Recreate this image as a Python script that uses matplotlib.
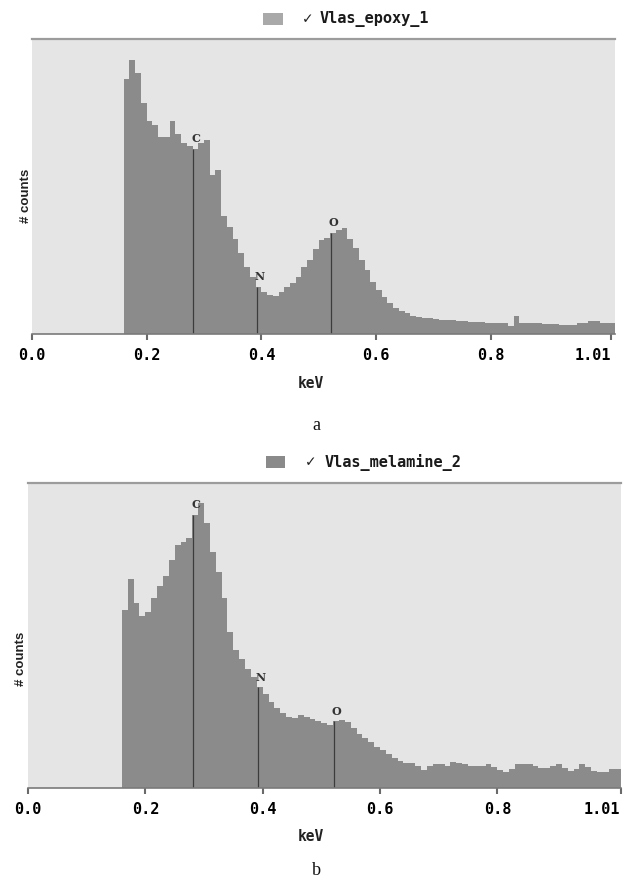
import numpy as np
import matplotlib
matplotlib.use("Agg")
import matplotlib.pyplot as plt
from matplotlib.patches import Rectangle

# ---------------- data ----------------
bin_start = 0.16      # keV
bin_width = 0.01      # keV
tick_values = [0.0, 0.2, 0.4, 0.6, 0.8, 1.01]
tick_labels = ["0.0", "0.2", "0.4", "0.6", "0.8", "1.01"]

element_names = ["C", "N", "O"]
element_energy = [0.281, 0.392, 0.521]

title_a = "Vlas_epoxy_1"
counts_a = [255, 274, 261, 231, 213, 209, 197, 197, 213, 200,
            191, 188, 185, 191, 194, 159, 164, 118, 107, 95,
            81, 67, 57, 47, 42, 39, 38, 42, 47, 51,
            57, 67, 74, 85, 94, 96, 101, 104, 106, 95,
            86, 74, 64, 52, 44, 37, 31, 26, 23, 21,
            18, 17, 16, 16, 15, 14, 14, 14, 13, 13,
            12, 12, 12, 11, 11, 11, 11, 8, 18, 11,
            11, 11, 11, 10, 10, 10, 9, 9, 9, 11,
            11, 13, 13, 11, 11, 11]

title_b = "Vlas_melamine_2"
counts_b = [178, 209, 185, 172, 176, 190, 202, 212, 228, 243,
            246, 250, 273, 285, 265, 236, 216, 190, 156, 138,
            129, 119, 111, 101, 94, 86, 80, 75, 71, 70,
            73, 71, 69, 67, 65, 63, 67, 68, 66, 60,
            54, 50, 46, 41, 38, 34, 30, 27, 25, 25,
            22, 18, 22, 24, 24, 22, 26, 25, 24, 22,
            22, 22, 24, 21, 18, 16, 19, 24, 24, 24,
            22, 20, 20, 22, 24, 20, 17, 19, 24, 21,
            17, 16, 16, 19, 19, 19]

# ---------------- styling ----------------
W, H = 624, 880
fig = plt.figure(figsize=(W / 100, H / 100), dpi=100)

BG = "#e5e5e5"
BAR = "#8b8b8b"
MONO = ["DejaVu Sans Mono", "DejaVu Sans"]


def fx(x):
    return x / W


def fy(y):
    return 1 - y / H


def panel(left, right, top, bottom, xmax, ymax, counts, title, swatch, swatch_col,
          check_x, text_x, legend_y, label_y, label_x, keV_y, letter, letter_y):
    ax = fig.add_axes([fx(left), fy(bottom), fx(right - left), (bottom - top) / H])
    ax.set_facecolor(BG)
    counts = np.asarray(counts, dtype=float)
    edges = bin_start + bin_width * np.arange(len(counts) + 1)
    ax.stairs(counts, edges, fill=True, color=BAR, linewidth=0)

    for name, e in zip(element_names, element_energy):
        idx = int(np.clip(np.searchsorted(edges, e, side="right") - 1, 0, len(counts) - 1))
        h = counts[idx]
        ax.plot([e, e], [0, h], color="#3c3c3c", lw=0.9, solid_capstyle="butt")
        ax.annotate(name, xy=(e, h), xytext=(3, 10), textcoords="offset pixels",
                    ha="center", va="center", fontsize=8, fontweight="bold",
                    family="DejaVu Serif", color="#333333")

    ax.set_xlim(0, xmax)
    ax.set_ylim(0, ymax)
    for s in ["left", "right"]:
        ax.spines[s].set_visible(False)
    ax.spines["top"].set_color("#9c9c9c")
    ax.spines["top"].set_linewidth(1.6)
    ax.spines["bottom"].set_color("#7a7a7a")
    ax.spines["bottom"].set_linewidth(1.2)
    ax.set_yticks([])
    ax.set_xticks(tick_values)
    labels = ax.set_xticklabels(tick_labels, family=MONO, fontweight="bold", fontsize=11)
    labels[-1].set_horizontalalignment("right")
    ax.tick_params(axis="x", direction="out", length=4, width=1.5, color="#6a6a6a",
                   pad=6)

    # legend-like header
    fig.patches.append(Rectangle((fx(swatch[0]), fy(swatch[3])),
                                 fx(swatch[1] - swatch[0]), (swatch[3] - swatch[2]) / H,
                                 transform=fig.transFigure, color=swatch_col, lw=0))
    fig.text(fx(check_x), fy(legend_y), "\u2713", ha="left", va="center",
             fontsize=10, family=["DejaVu Sans"], color="#222222")
    fig.text(fx(text_x), fy(legend_y), title, ha="left", va="center",
             fontsize=11, fontweight="bold", family=MONO, color="#1a1a1a")

    fig.text(fx(label_x), fy(label_y), "# counts", rotation=90, ha="center", va="center",
             fontsize=9.5, fontweight="bold", family=["Liberation Sans", "DejaVu Sans"],
             color="#222222")
    fig.text(fx(311), fy(keV_y), "keV", ha="center", va="center",
             fontsize=10.5, fontweight="bold", family=MONO, color="#222222")
    fig.text(fx(316), fy(letter_y), letter, ha="center", va="center",
             fontsize=13, family=["Liberation Serif", "DejaVu Serif"], color="#111111")
    return ax


panel(left=32, right=615, top=39, bottom=334, xmax=(615 - 32) / 573.3, ymax=295,
      counts=counts_a, title=title_a, swatch=(263, 283, 13, 25), swatch_col="#a9a9a9",
      check_x=302, text_x=320, legend_y=19, label_y=196, label_x=26, keV_y=384,
      letter="a", letter_y=425)

panel(left=28, right=621, top=483, bottom=788, xmax=(621 - 28) / 586.7, ymax=305,
      counts=counts_b, title=title_b, swatch=(266, 285, 456, 468), swatch_col="#8a8a8a",
      check_x=305, text_x=325, legend_y=462, label_y=659, label_x=21, keV_y=836,
      letter="b", letter_y=870)

fig.savefig("out.png", dpi=100, facecolor="white")
